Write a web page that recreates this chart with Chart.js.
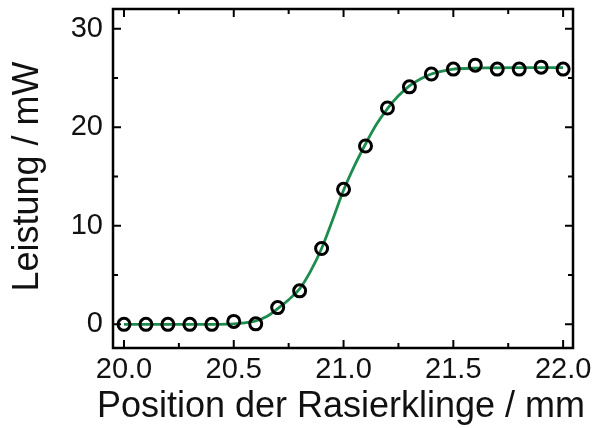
<!DOCTYPE html>
<html>
<head>
<meta charset="utf-8">
<script src="https://cdn.jsdelivr.net/npm/chart.js@4"></script>
<style>
  html, body { margin: 0; padding: 0; background: #fff; }
  #wrap { width: 592px; height: 428px; }
</style>
</head>
<body>
<div id="wrap"><canvas id="chart-canvas" width="592" height="428"></canvas></div>
<script>
// measured power vs razor blade position
const positions = [20.0, 20.1, 20.2, 20.3, 20.4, 20.5, 20.6, 20.7, 20.8, 20.9, 21.0,
                   21.1, 21.2, 21.3, 21.4, 21.5, 21.6, 21.7, 21.8, 21.9, 22.0];
const power = [0.0, 0.0, 0.0, 0.0, 0.0, 0.3, 0.05, 1.7, 3.4, 7.7, 13.7,
               18.1, 21.95, 24.1, 25.4, 25.9, 26.3, 25.9, 25.9, 26.1, 25.9];

// fitted edge curve
const fitX = [20.0, 20.2, 20.4, 20.5, 20.55, 20.6, 20.65, 20.7, 20.75, 20.8, 20.85, 20.9,
              20.95, 21.0, 21.05, 21.1, 21.15, 21.2, 21.25, 21.3, 21.35, 21.4, 21.45,
              21.5, 21.6, 21.8, 22.0];
const fitY = [0.0, 0.0, 0.0, 0.05, 0.15, 0.35, 0.8, 1.6, 2.5, 3.6, 5.4, 7.7,
              10.6, 13.6, 16.1, 18.3, 20.3, 21.9, 23.2, 24.2, 24.9, 25.4, 25.7,
              25.9, 26.0, 26.05, 26.05];

const xTicks = [20.0, 20.5, 21.0, 21.5, 22.0];
const xMinor = [20.25, 20.75, 21.25, 21.75];
const yTicks = [0, 10, 20, 30];
const yMinor = [5, 15, 25];

const xTitle = 'Position der Rasierklinge / mm';
const yTitle = 'Leistung / mW';

const FONT = "Arial, 'Liberation Sans', sans-serif";

// box frame with inward ticks on all four sides, plus axis titles
// (titles drawn by hand so the long x title is not squeezed to the scale width)
const frameTicks = {
  id: 'frameTicks',
  afterDraw(chart) {
    const { ctx, chartArea: a, scales: { x, y } } = chart;
    ctx.save();
    ctx.strokeStyle = '#000';
    ctx.lineWidth = 2.5;
    ctx.strokeRect(a.left, a.top, a.right - a.left, a.bottom - a.top);
    ctx.lineWidth = 2;
    const tick = (vals, len) => {
      vals.forEach(v => {
        const px = x.getPixelForValue(v);
        ctx.beginPath();
        ctx.moveTo(px, a.bottom); ctx.lineTo(px, a.bottom - len);
        ctx.moveTo(px, a.top); ctx.lineTo(px, a.top + len);
        ctx.stroke();
      });
    };
    const tickY = (vals, len) => {
      vals.forEach(v => {
        const py = y.getPixelForValue(v);
        ctx.beginPath();
        ctx.moveTo(a.left, py); ctx.lineTo(a.left + len, py);
        ctx.moveTo(a.right, py); ctx.lineTo(a.right - len, py);
        ctx.stroke();
      });
    };
    tick(xTicks, 8); tick(xMinor, 5);
    tickY(yTicks, 8); tickY(yMinor, 5);

    ctx.fillStyle = '#111';
    ctx.font = '36px ' + FONT;
    ctx.textAlign = 'center';
    ctx.textBaseline = 'alphabetic';
    ctx.fillText(xTitle, (a.left + a.right) / 2 - 2, 417);

    ctx.translate(38, (a.top + a.bottom) / 2 - 2);
    ctx.rotate(-Math.PI / 2);
    ctx.fillText(yTitle, 0, 0);
    ctx.restore();
  }
};

const chartCtx = document.getElementById('chart-canvas');

const edgeChart = new Chart(chartCtx, {
  type: 'scatter',
  data: {
    datasets: [
      {
        label: 'Messung',
        data: positions.map((p, i) => ({ x: p, y: power[i] })),
        pointStyle: 'circle',
        pointRadius: 6,
        pointBorderWidth: 3,
        pointBorderColor: '#000',
        pointBackgroundColor: 'rgba(0,0,0,0)',
        showLine: false,
        order: 0
      },
      {
        label: 'Fit',
        type: 'line',
        data: fitX.map((p, i) => ({ x: p, y: fitY[i] })),
        borderColor: '#1e8c4e',
        borderWidth: 2.8,
        pointRadius: 0,
        cubicInterpolationMode: 'monotone',
        fill: false,
        order: 1
      }
    ]
  },
  options: {
    responsive: false,
    animation: false,
    devicePixelRatio: 1,
    layout: { padding: { top: 8, right: 19, left: 0, bottom: 0 } },
    plugins: { legend: { display: false }, tooltip: { enabled: false } },
    scales: {
      x: {
        type: 'linear',
        min: 19.95,
        max: 22.045,
        grid: { display: false, drawTicks: false },
        border: { display: false },
        afterBuildTicks: s => { s.ticks = xTicks.map(v => ({ value: v })); },
        afterFit: s => { s.height = 80; s.paddingLeft = 0; s.paddingRight = 0; },
        ticks: {
          color: '#111',
          padding: 5,
          maxRotation: 0,
          font: { family: FONT, size: 29 },
          callback: v => v.toFixed(1)
        },
        title: { display: false }
      },
      y: {
        type: 'linear',
        min: -2.4,
        max: 32,
        grid: { display: false, drawTicks: false },
        border: { display: false },
        afterBuildTicks: s => { s.ticks = yTicks.map(v => ({ value: v })); },
        afterFit: s => { s.width = 113; s.paddingTop = 0; s.paddingBottom = 0; },
        ticks: {
          color: '#111',
          padding: 10,
          font: { family: FONT, size: 29 },
          callback: v => String(v)
        },
        title: { display: false }
      }
    }
  },
  plugins: [frameTicks]
});
</script>
</body>
</html>
